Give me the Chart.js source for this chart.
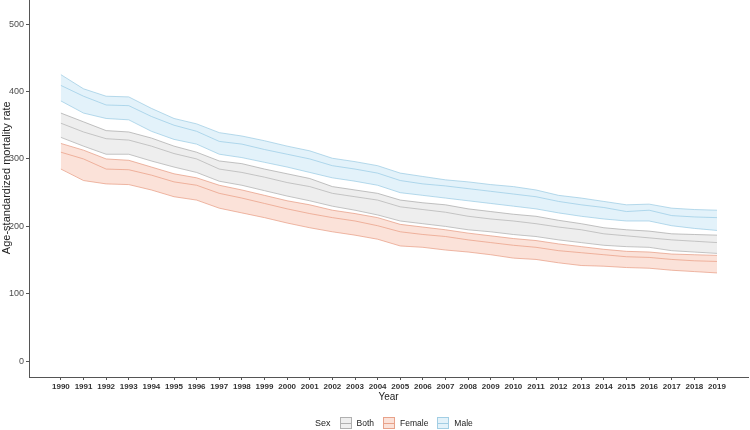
<!DOCTYPE html>
<html>
<head>
<meta charset="utf-8">
<script src="https://cdn.jsdelivr.net/npm/chart.js@4"></script>
<style>
  html, body { margin: 0; padding: 0; background: #fff; }
  #wrap { position: relative; width: 750px; height: 430px; overflow: hidden; font-family: "Liberation Sans", Arial, sans-serif; }
  #chart { position: absolute; left: 0; top: -29px; }
  #legend { position: absolute; left: 315px; top: 417px; display: flex; align-items: center; font-size: 8.5px; color: #222; }
  #legend .key { width: 12px; height: 12px; box-sizing: border-box; border: 1px solid; position: relative; margin-right: 5px; }
  #legend .key::after { content: ""; position: absolute; left: 0; right: 0; top: 4.5px; height: 1px; background: var(--c); }
  #legend .lab { margin-right: 9px; }
</style>
</head>
<body>
<div id="wrap">
  <canvas id="chart" width="750" height="459"></canvas>
  <div id="legend"></div>
</div>
<script>
// years and y tick labels
const years = [1990,1991,1992,1993,1994,1995,1996,1997,1998,1999,2000,2001,2002,2003,2004,
               2005,2006,2007,2008,2009,2010,2011,2012,2013,2014,2015,2016,2017,2018,2019];
const yTicks = [0, 100, 200, 300, 400, 500];

// Age-standardized mortality rate, mean with lower / upper bounds
const bothMean  = [353,340,330,328,319,308,300,285,280,273,265,259,249,244,239,229,225,221,215,211,208,204,199,195,189,186,183,180,178,176];
const bothUpper = [368,355,342,340,331,319,310,297,293,285,278,271,259,254,249,239,235,232,226,222,218,215,209,204,198,195,193,189,188,187];
const bothLower = [332,319,307,307,297,288,280,267,261,253,245,238,230,224,217,208,204,200,195,192,188,185,180,176,172,170,169,164,162,160];

const femaleMean  = [310,300,285,284,276,266,261,249,242,234,226,219,213,208,201,192,188,185,180,176,172,169,164,161,158,155,154,151,149,148];
const femaleUpper = [323,313,300,298,288,278,272,261,254,246,238,232,224,219,213,203,199,195,190,186,182,179,174,170,166,163,162,159,158,157];
const femaleLower = [285,268,263,262,254,244,239,227,220,213,205,198,192,187,181,171,169,165,162,158,153,151,146,142,141,139,138,135,133,131];

const maleMean  = [409,393,380,379,363,350,341,326,322,314,307,300,290,285,279,268,263,260,256,252,248,244,237,232,228,222,224,216,214,213];
const maleUpper = [425,404,393,392,375,360,352,339,334,327,319,312,301,296,290,279,274,269,266,262,259,254,246,242,237,232,233,227,225,224];
const maleLower = [386,368,360,358,341,329,322,307,302,295,288,280,272,267,261,250,246,242,238,234,230,226,220,215,211,208,208,201,197,194];

const sexes = [
  { name: "Both",   mean: bothMean,   upper: bothUpper,   lower: bothLower,   line: "rgba(165,165,165,0.85)", fill: "rgba(200,200,200,0.3)" },
  { name: "Female", mean: femaleMean, upper: femaleUpper, lower: femaleLower, line: "rgba(228,150,125,0.85)", fill: "rgba(242,160,130,0.3)" },
  { name: "Male",   mean: maleMean,   upper: maleUpper,   lower: maleLower,   line: "rgba(150,200,225,0.85)", fill: "rgba(145,205,235,0.25)" }
];

const pts = arr => arr.map((v, i) => ({ x: years[i], y: v }));

const datasets = [];
sexes.forEach(s => {
  const base = { borderColor: s.line, borderWidth: 0.8, pointRadius: 0, tension: 0 };
  datasets.push({ ...base, label: s.name + " upper", data: pts(s.upper), fill: "+2", backgroundColor: s.fill });
  datasets.push({ ...base, label: s.name, data: pts(s.mean), fill: false });
  datasets.push({ ...base, label: s.name + " lower", data: pts(s.lower), fill: false });
});

new Chart(document.getElementById("chart").getContext("2d"), {
  type: "line",
  data: { datasets },
  options: {
    responsive: false,
    animation: false,
    layout: { padding: { top: 0, right: 2, bottom: 0, left: 0 } },
    plugins: { legend: { display: false }, tooltip: { enabled: false } },
    scales: {
      x: {
        type: "linear",
        min: 1988.59,
        max: 2020.37,
        afterBuildTicks: s => { s.ticks = years.map(v => ({ value: v })); },
        afterFit: s => { s.height = 53; },
        grid: { drawOnChartArea: false, tickLength: 3, color: "#555" },
        border: { color: "#555", width: 1 },
        ticks: {
          autoSkip: false, maxRotation: 0, padding: 2,
          color: "#333",
          font: { family: "Liberation Sans", size: 8, weight: "bold" },
          callback: v => String(v)
        },
        title: {
          display: true, text: "Year", color: "#222",
          font: { family: "Liberation Sans", size: 10 },
          padding: { top: 0, bottom: 27 }
        }
      },
      y: {
        min: -23.3,
        max: 567.7,
        afterBuildTicks: s => { s.ticks = yTicks.map(v => ({ value: v })); },
        afterFit: s => { s.width = 29; },
        grid: { drawOnChartArea: false, tickLength: 3, color: "#555" },
        border: { color: "#555", width: 1 },
        ticks: {
          padding: 2, color: "#4d4d4d",
          font: { family: "Liberation Sans", size: 9 }
        },
        title: {
          display: true, text: "Age-standardized mortality rate", color: "#222",
          font: { family: "Liberation Sans", size: 11 },
          padding: { top: 0.5, bottom: 0 }
        }
      }
    }
  }
});

// legend like ggplot: title, then a key box with the band colour and mean line
const legend = document.getElementById("legend");
const title = document.createElement("span");
title.textContent = "Sex";
title.style.marginRight = "9px";
title.style.fontSize = "9px";
legend.appendChild(title);
sexes.forEach(s => {
  const key = document.createElement("span");
  key.className = "key";
  key.style.borderColor = s.line;
  key.style.background = s.fill;
  key.style.setProperty("--c", s.line);
  const lab = document.createElement("span");
  lab.className = "lab";
  lab.textContent = s.name;
  legend.appendChild(key);
  legend.appendChild(lab);
});
</script>
</body>
</html>
